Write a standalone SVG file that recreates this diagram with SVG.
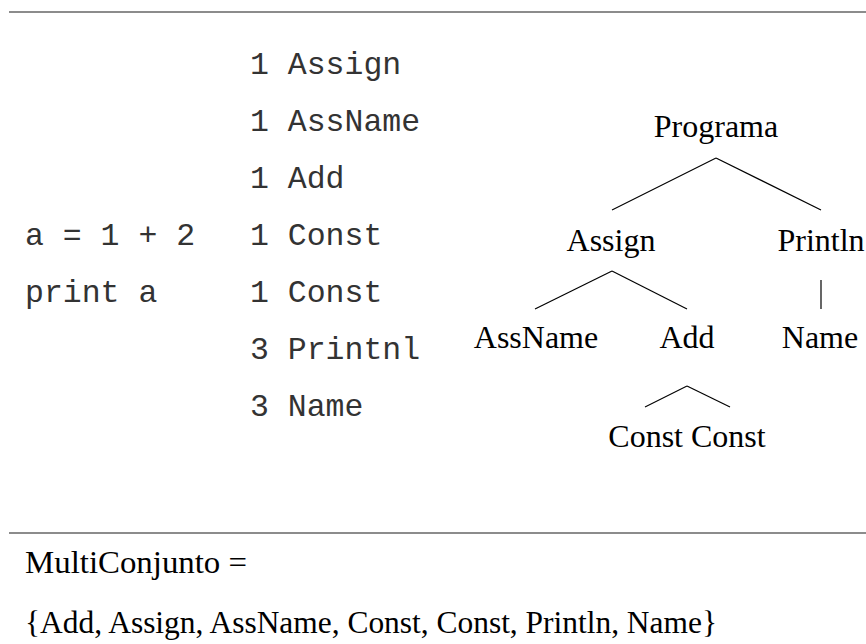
<svg xmlns="http://www.w3.org/2000/svg" width="866" height="644" viewBox="0 0 866 644">
<style>
.rule{stroke:#666;stroke-width:1.5;fill:none}
.mono{font-family:"Liberation Mono","Courier New",monospace;font-size:31.5px;fill:#333}
.serif{font-family:"Liberation Serif","Times New Roman",serif;font-size:32px;fill:#000}
.node{text-anchor:middle}
.edge{stroke:#000;stroke-width:1.2;fill:none}
</style>
<rect width="866" height="644" fill="#fff"/>
<line class="rule" x1="9" y1="12" x2="866" y2="12"/>
<line class="rule" x1="9" y1="533" x2="866" y2="533"/>
<g id="source">
<text class="mono" x="25" y="245">a = 1 + 2</text>
<text class="mono" x="25" y="302">print a</text>
</g>
<g id="tokens">
<text class="mono" x="250" y="74">1 Assign</text>
<text class="mono" x="250" y="131">1 AssName</text>
<text class="mono" x="250" y="188">1 Add</text>
<text class="mono" x="250" y="245">1 Const</text>
<text class="mono" x="250" y="302">1 Const</text>
<text class="mono" x="250" y="359">3 Printnl</text>
<text class="mono" x="250" y="416">3 Name</text>
</g>
<g id="connectors">
<line class="edge" x1="716" y1="158" x2="612" y2="210"/>
<line class="edge" x1="716" y1="158" x2="821" y2="210"/>
<line class="edge" x1="612" y1="271" x2="535" y2="309"/>
<line class="edge" x1="612" y1="271" x2="687" y2="309"/>
<line class="edge" x1="821" y1="280" x2="821" y2="309"/>
<line class="edge" x1="687" y1="386" x2="645" y2="407"/>
<line class="edge" x1="687" y1="386" x2="730" y2="407"/>
</g>
<g id="n-programa"><text class="serif node" x="716" y="137">Programa</text></g>
<g id="n-assign"><text class="serif node" x="611" y="251">Assign</text></g>
<g id="n-println"><text class="serif node" x="821" y="251">Println</text></g>
<g id="n-assname"><text class="serif node" x="536" y="348">AssName</text></g>
<g id="n-add"><text class="serif node" x="687" y="348">Add</text></g>
<g id="n-name"><text class="serif node" x="820" y="348">Name</text></g>
<g id="n-consts"><text class="serif node" x="687" y="447">Const Const</text></g>
<g id="multiset">
<text class="serif" x="25" y="573" textLength="222" lengthAdjust="spacingAndGlyphs">MultiConjunto =</text>
<text class="serif" x="25" y="633" textLength="692" lengthAdjust="spacingAndGlyphs">{Add, Assign, AssName, Const, Const, Println, Name}</text>
</g>
</svg>
